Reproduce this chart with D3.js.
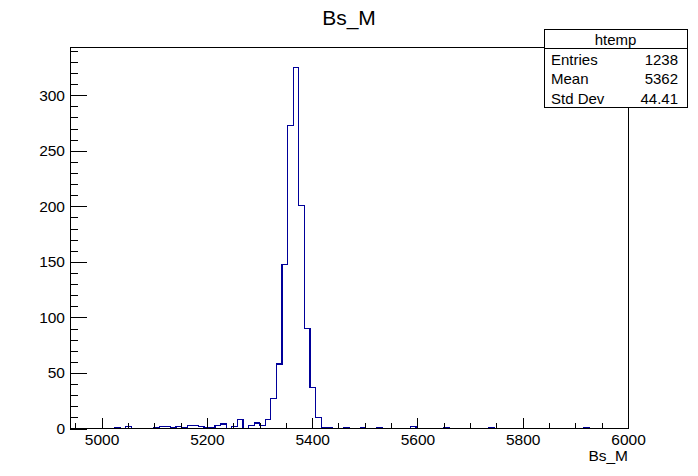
<!DOCTYPE html>
<html>
<head>
<meta charset="utf-8">
<script src="https://cdn.jsdelivr.net/npm/d3@7"></script>
<style>
  body { margin: 0; background: #fff; }
  svg { display: block; font-family: "Liberation Sans", Arial, Helvetica, sans-serif; }
</style>
</head>
<body>
<div id="chart"></div>
<script>
// histogram Bs_M, 100 bins between 4940 and 6000
const xRange = [4940, 6000];
const binCounts = [
  0, 0, 0, 0, 0, 0, 0, 0, 1, 0,
  2, 0, 0, 0, 0, 1, 2, 2, 1, 2,
  1, 3, 3, 2, 1, 1, 3, 4, 0, 2,
  8, 0, 3, 5, 3, 8, 27, 58, 148, 273,
  325, 201, 90, 37, 10, 1, 1, 0, 0, 1,
  0, 0, 1, 0, 0, 1, 0, 0, 0, 0,
  0, 2, 0, 0, 0, 0, 0, 1, 0, 0,
  0, 0, 0, 0, 0, 1, 0, 0, 0, 0,
  0, 0, 0, 0, 0, 0, 0, 0, 0, 0,
  0, 0, 1, 0, 0, 0, 0, 0, 0, 0
];
const yMax = 343;
const xMajorTicks = [5000, 5200, 5400, 5600, 5800, 6000];
const xMinorTicks = d3.range(4950, 6001, 50);
const yMajorTicks = [0, 50, 100, 150, 200, 250, 300];
const yMinorTicks = d3.range(0, 341, 10);
const statsTitle = "htemp";
const statsLabels = ["Entries", "Mean", "Std Dev"];
const statsValues = ["1238", "5362", "44.41"];

const W = 698, H = 476;
const frame = {left: 70, right: 628, top: 47.5, bottom: 428.5};
const blue = "#000099";

const svg = d3.select("#chart").append("svg")
  .attr("width", W).attr("height", H);

svg.append("rect").attr("width", W).attr("height", H).attr("fill", "#fff");

const x = d3.scaleLinear().domain(xRange).range([frame.left, frame.right]);
const y = d3.scaleLinear().domain([0, yMax]).range([frame.bottom, frame.top]);

const binW = (xRange[1] - xRange[0]) / binCounts.length;

// histogram outline
const pts = [[xRange[0], 0]];
binCounts.forEach((c, i) => {
  pts.push([xRange[0] + i * binW, c]);
  pts.push([xRange[0] + (i + 1) * binW, c]);
});
pts.push([xRange[1], 0]);

const line = d3.line().x(d => x(d[0])).y(d => y(d[1]));

svg.append("path")
  .attr("d", line(pts))
  .attr("fill", "none")
  .attr("stroke", blue)
  .attr("stroke-width", 1.2)
  .attr("shape-rendering", "crispEdges");

// axes
const axisFont = "15.5px";

svg.append("g")
  .attr("transform", `translate(0,${frame.bottom})`)
  .call(d3.axisBottom(x).tickValues(xMinorTicks).tickSize(-5.5).tickFormat(""))
  .call(g => g.select(".domain").remove());

svg.append("g")
  .attr("transform", `translate(0,${frame.bottom})`)
  .call(d3.axisBottom(x).tickValues(xMajorTicks).tickSize(-11).tickPadding(5).tickFormat(d3.format("d")))
  .call(g => g.select(".domain").remove())
  .call(g => g.selectAll("text").attr("font-size", axisFont).attr("fill", "#000").attr("font-family", null));

svg.append("g")
  .attr("transform", `translate(${frame.left},0)`)
  .call(d3.axisLeft(y).tickValues(yMinorTicks).tickSize(-8.4).tickFormat(""))
  .call(g => g.select(".domain").remove());

svg.append("g")
  .attr("transform", `translate(${frame.left},0)`)
  .call(d3.axisLeft(y).tickValues(yMajorTicks).tickSize(-16.7).tickPadding(5).tickFormat(d3.format("d")))
  .call(g => g.select(".domain").remove())
  .call(g => g.selectAll("text").attr("font-size", axisFont).attr("fill", "#000").attr("font-family", null));

svg.selectAll(".tick line").attr("stroke", "#000").attr("shape-rendering", "crispEdges");

// frame
svg.append("rect")
  .attr("x", frame.left).attr("y", frame.top)
  .attr("width", frame.right - frame.left)
  .attr("height", frame.bottom - frame.top)
  .attr("fill", "none").attr("stroke", "#000")
  .attr("shape-rendering", "crispEdges");

// titles
svg.append("text")
  .attr("x", 349).attr("y", 25)
  .attr("text-anchor", "middle")
  .attr("font-size", "21px")
  .text("Bs_M");

svg.append("text")
  .attr("x", frame.right).attr("y", 461)
  .attr("text-anchor", "end")
  .attr("font-size", axisFont)
  .text("Bs_M");

// stats box
const box = {x: 544, y: 29.5, w: 143, h: 78, head: 19};
const sb = svg.append("g");
sb.append("rect")
  .attr("x", box.x + 0.5).attr("y", box.y)
  .attr("width", box.w).attr("height", box.h)
  .attr("fill", "#fff").attr("stroke", "#000")
  .attr("shape-rendering", "crispEdges");
sb.append("line")
  .attr("x1", box.x).attr("x2", box.x + box.w)
  .attr("y1", box.y + box.head).attr("y2", box.y + box.head)
  .attr("stroke", "#000").attr("shape-rendering", "crispEdges");
sb.append("text")
  .attr("x", box.x + box.w / 2).attr("y", box.y + 15)
  .attr("text-anchor", "middle").attr("font-size", "15px")
  .text(statsTitle);
statsLabels.forEach((lab, i) => {
  const ty = box.y + box.head + 16 + i * 19.5;
  sb.append("text").attr("x", box.x + 7).attr("y", ty)
    .attr("font-size", "15px").text(lab);
  sb.append("text").attr("x", box.x + box.w - 9).attr("y", ty)
    .attr("text-anchor", "end").attr("font-size", "15px").text(statsValues[i]);
});
</script>
</body>
</html>
